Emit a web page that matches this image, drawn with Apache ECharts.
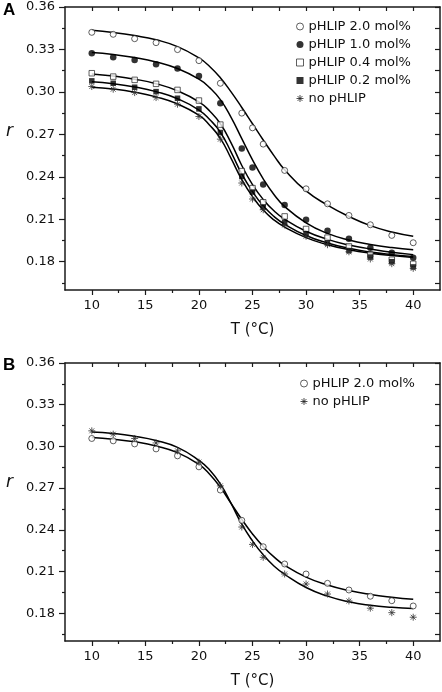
<!DOCTYPE html>
<html><head><meta charset="utf-8">
<script src="https://cdn.jsdelivr.net/npm/echarts@6/dist/echarts.min.js"></script>
<style>html,body{margin:0;padding:0;background:#fff}#c{width:442px;height:692px}</style>
</head><body><div id="c"></div>
<script>
// ---------- data ----------
const tempA = [10,12,14,16,18,20,22,24,25,26,28,30,32,34,36,38,40];
const r20A = [0.3421,0.3407,0.3376,0.3348,0.3299,0.3221,0.3061,0.2850,0.2746,0.2631,0.2445,0.2315,0.2209,0.2127,0.2061,0.1986,0.1934];
const r10A = [0.3273,0.3245,0.3226,0.3196,0.3165,0.3113,0.2920,0.2600,0.2466,0.2346,0.2200,0.2097,0.2019,0.1962,0.1899,0.1864,0.1828];
const r04A = [0.3132,0.3108,0.3085,0.3057,0.3014,0.2939,0.2769,0.2440,0.2320,0.2220,0.2120,0.2031,0.1970,0.1908,0.1849,0.1814,0.1785];
const r02A = [0.3078,0.3061,0.3033,0.3002,0.2955,0.2880,0.2713,0.2402,0.2292,0.2186,0.2077,0.1998,0.1932,0.1878,0.1833,0.1800,0.1763];
const r00A = [0.3038,0.3019,0.2995,0.2960,0.2913,0.2826,0.2666,0.2356,0.2243,0.2167,0.2059,0.1980,0.1920,0.1870,0.1819,0.1786,0.1753];

const fitT = [10,12,14,16,18,20,21,22,23,24,25,26,27,28,30,32,34,36,38,40];
const fit20A = [0.3435,0.3420,0.3398,0.3368,0.3320,0.3240,0.3180,0.3100,0.3000,0.2890,0.2775,0.2660,0.2550,0.2450,0.2300,0.2200,0.2120,0.2055,0.2010,0.1980];
const fit10A = [0.3278,0.3265,0.3243,0.3212,0.3165,0.3090,0.3030,0.2945,0.2820,0.2670,0.2520,0.2385,0.2275,0.2190,0.2075,0.2000,0.1953,0.1922,0.1900,0.1885];
const fit04A = [0.3127,0.3112,0.3090,0.3058,0.3008,0.2930,0.2865,0.2775,0.2640,0.2480,0.2345,0.2240,0.2160,0.2100,0.2015,0.1958,0.1918,0.1890,0.1866,0.1850];
const fit02A = [0.3071,0.3057,0.3035,0.3002,0.2952,0.2872,0.2805,0.2715,0.2575,0.2420,0.2295,0.2195,0.2120,0.2065,0.1985,0.1932,0.1895,0.1868,0.1850,0.1837];
const fit00A = [0.3033,0.3020,0.2998,0.2965,0.2915,0.2835,0.2765,0.2672,0.2530,0.2380,0.2260,0.2165,0.2095,0.2045,0.1970,0.1920,0.1885,0.1860,0.1843,0.1830];

const tempB20 = [10,12,14,16,18,20,22,24,26,28,30,32,34,36,38,40];
const r20B = [0.3057,0.3040,0.3018,0.2982,0.2932,0.2853,0.2686,0.2468,0.2278,0.2154,0.2082,0.2015,0.1967,0.1922,0.1890,0.1852];
const tempB00 = [10,12,14,16,18,20,22,24,25,26,28,30,32,34,36,38,40];
const r00B = [0.3112,0.3088,0.3057,0.3025,0.2968,0.2887,0.2716,0.2420,0.2295,0.2202,0.2082,0.2010,0.1938,0.1888,0.1836,0.1804,0.1771];
const fit20B = [0.3064,0.3052,0.3033,0.3003,0.2955,0.2870,0.2800,0.2705,0.2590,0.2475,0.2370,0.2280,0.2205,0.2145,0.2060,0.2003,0.1963,0.1935,0.1915,0.1900];
const fit00B = [0.3104,0.3093,0.3073,0.3043,0.2993,0.2900,0.2830,0.2730,0.2590,0.2440,0.2320,0.2220,0.2140,0.2080,0.1985,0.1923,0.1882,0.1857,0.1842,0.1833];

const xMajor = [10,15,20,25,30,35,40];
const xMinor = [12.5,17.5,22.5,27.5,32.5,37.5];
const yMajor = [0.18,0.21,0.24,0.27,0.30,0.33,0.36];
const yMinor = [0.165,0.195,0.225,0.255,0.285,0.315,0.345];

const legendA = ['pHLIP 2.0 mol%','pHLIP 1.0 mol%','pHLIP 0.4 mol%','pHLIP 0.2 mol%','no pHLIP'];
const legendB = ['pHLIP 2.0 mol%','no pHLIP'];

// ---------- styling ----------
const chart = echarts.init(document.getElementById('c'), null, {renderer:'canvas'});
const FONT = 'DejaVu Sans';
const AX = '#1a1a1a';
const STAR = 'path://M5,0L5,10M0,5L10,5M1.5,1.5L8.5,8.5M1.5,8.5L8.5,1.5';
const X0 = 7.5, X1 = 42.5, Y0 = 0.16, Y1 = 0.36;

const gridA = {left:65, top:7, width:375, height:283};
const gridB = {left:65, top:363, width:375, height:278};

function zip(xs, ys){ return xs.map((x,i)=>[x, ys[i]]); }

const xAll = xMajor.concat(xMinor).sort((a,b)=>a-b);
const yAll = yMajor.concat(yMinor).sort((a,b)=>a-b);

function xMain(g){ return {type:'value', gridIndex:g, position:'bottom', min:X0, max:X1,
  axisLine:{show:true, onZero:false, lineStyle:{color:AX, width:1.5}},
  axisTick:{show:true, customValues:xMajor, length:5, inside:false, lineStyle:{color:AX, width:1.2}},
  axisLabel:{show:true, customValues:xMajor, margin:9, color:'#111', fontSize:13, fontFamily:FONT, formatter:v=>String(v)},
  splitLine:{show:false}}; }
function xTop(g){ return {type:'value', gridIndex:g, position:'top', min:X0, max:X1,
  axisLine:{show:true, onZero:false, lineStyle:{color:AX, width:1.5}},
  axisTick:{show:true, customValues:xAll, length:4, inside:true, lineStyle:{color:AX, width:1.2}},
  axisLabel:{show:false}, splitLine:{show:false}}; }
function xMin(g){ return {type:'value', gridIndex:g, position:'bottom', min:X0, max:X1,
  axisLine:{show:false, onZero:false},
  axisTick:{show:true, customValues:xMinor, length:3, inside:false, lineStyle:{color:AX, width:1.2}},
  axisLabel:{show:false}, splitLine:{show:false}}; }
function yMain(g){ return {type:'value', gridIndex:g, position:'left', min:Y0, max:Y1,
  axisLine:{show:true, onZero:false, lineStyle:{color:AX, width:1.5}},
  axisTick:{show:true, customValues:yMajor, length:6, inside:false, lineStyle:{color:AX, width:1.2}},
  axisLabel:{show:true, customValues:yMajor, margin:10, color:'#111', fontSize:13, fontFamily:FONT, formatter:v=>v.toFixed(2)},
  splitLine:{show:false}}; }
function yRight(g){ return {type:'value', gridIndex:g, position:'right', min:Y0, max:Y1,
  axisLine:{show:true, onZero:false, lineStyle:{color:AX, width:1.5}},
  axisTick:{show:true, customValues:yAll, length:5, inside:true, lineStyle:{color:AX, width:1.2}},
  axisLabel:{show:false}, splitLine:{show:false}}; }
function yMin(g){ return {type:'value', gridIndex:g, position:'left', min:Y0, max:Y1,
  axisLine:{show:false, onZero:false},
  axisTick:{show:true, customValues:yMinor, length:3, inside:false, lineStyle:{color:AX, width:1.2}},
  axisLabel:{show:false}, splitLine:{show:false}}; }

const openStyle = {color:'#fff', borderColor:'#222', borderWidth:0.9};
const fillStyle = {color:'#000', borderColor:'#000', borderWidth:0};
const starStyle = {color:'transparent', borderColor:'#333', borderWidth:1};

function fit(name, xi, ys){ return {name, type:'line', xAxisIndex:xi, yAxisIndex:xi, data:zip(fitT, ys),
  showSymbol:false, symbol:'none', smooth:0.5, z:2, silent:true,
  lineStyle:{color:'#000', width:1.5}}; }
function pts(name, xi, xs, ys, symbol, size, style){ return {name, type:'scatter', xAxisIndex:xi, yAxisIndex:xi,
  data:zip(xs, ys), symbol, symbolSize:size, itemStyle:style, z:5, silent:true}; }

const legendText = {fontSize:13, fontFamily:FONT, color:'#111'};
function legItem(name){
  if (name === 'no pHLIP') return {name, icon:STAR, itemStyle:{color:'transparent', borderColor:'#222', borderWidth:1}};
  if (name.indexOf('2.0') > 0) return {name, icon:'circle', itemStyle:{color:'#fff', borderColor:'#222', borderWidth:0.9}};
  if (name.indexOf('1.0') > 0) return {name, icon:'circle', itemStyle:{color:'#000', borderWidth:0}};
  if (name.indexOf('0.4') > 0) return {name, icon:'rect', itemStyle:{color:'#fff', borderColor:'#222', borderWidth:0.9}};
  return {name, icon:'rect', itemStyle:{color:'#000', borderWidth:0}};
}

const option = {
  animation:false,
  backgroundColor:'#fff',
  title:[
    {text:'A', left:3, top:2, padding:0, textStyle:{fontFamily:'Liberation Sans', fontWeight:'bold', fontSize:17, color:'#000'}},
    {text:'B', left:3, top:357, padding:0, textStyle:{fontFamily:'Liberation Sans', fontWeight:'bold', fontSize:17, color:'#000'}}
  ],
  graphic:[
    {type:'text', left:6, top:123, style:{text:'r', font:'italic 17px "DejaVu Sans"', fill:'#111'}},
    {type:'text', left:6, top:474, style:{text:'r', font:'italic 17px "DejaVu Sans"', fill:'#111'}}
  ],
  grid:[gridA, gridB, gridA, gridB],
  xAxis:[
    Object.assign(xMain(0), {name:'T (°C)', nameLocation:'middle', nameGap:33, nameTextStyle:{fontSize:15, fontFamily:FONT, color:'#111'}}),
    xTop(0),
    Object.assign(xMain(1), {name:'T (°C)', nameLocation:'middle', nameGap:33, nameTextStyle:{fontSize:15, fontFamily:FONT, color:'#111'}}),
    xTop(1),
    xMin(2), xMin(3)
  ],
  yAxis:[ yMain(0), yRight(0), yMain(1), yRight(1), yMin(2), yMin(3) ],
  legend:[
    {data:legendA.map(legItem), orient:'vertical', left:296, top:20, itemWidth:7, itemHeight:7, itemGap:5, selectedMode:false, textStyle:legendText, padding:0},
    {data:legendB.map(legItem), orient:'vertical', left:300, top:377, itemWidth:7, itemHeight:7, itemGap:5, selectedMode:false, textStyle:legendText, padding:0}
  ],
  series:[
    fit('fit A 2.0', 0, fit20A), fit('fit A 1.0', 0, fit10A), fit('fit A 0.4', 0, fit04A), fit('fit A 0.2', 0, fit02A), fit('fit A none', 0, fit00A),
    pts('pHLIP 2.0 mol%', 0, tempA, r20A, 'circle', 6, openStyle),
    pts('pHLIP 1.0 mol%', 0, tempA, r10A, 'circle', 6.5, fillStyle),
    pts('pHLIP 0.4 mol%', 0, tempA, r04A, 'rect', 5.5, openStyle),
    pts('pHLIP 0.2 mol%', 0, tempA, r02A, 'rect', 5.5, fillStyle),
    pts('no pHLIP', 0, tempA, r00A, STAR, 7, starStyle),
    fit('fit B 2.0', 2, fit20B), fit('fit B none', 2, fit00B),
    pts('pHLIP 2.0 mol%', 2, tempB20, r20B, 'circle', 6, openStyle),
    pts('no pHLIP', 2, tempB00, r00B, STAR, 7, starStyle)
  ]
};
chart.setOption(option);
</script></body></html>
